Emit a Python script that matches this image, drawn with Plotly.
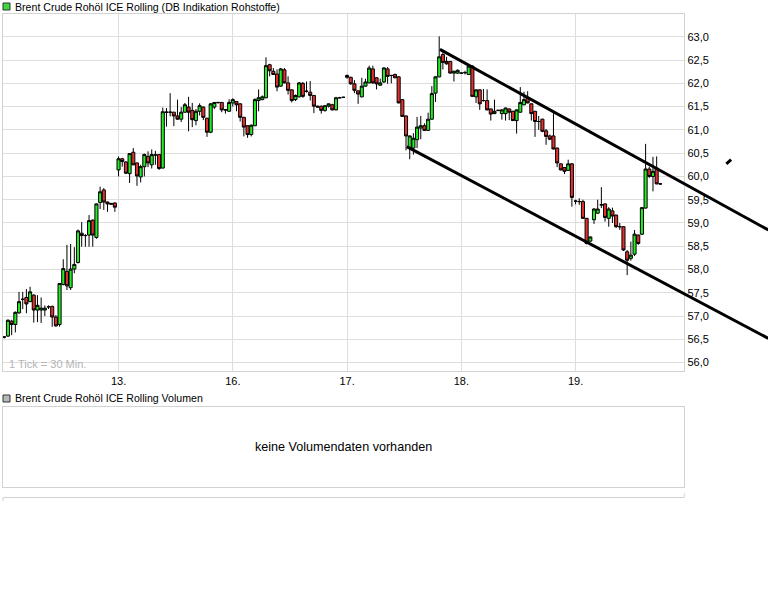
import plotly.graph_objects as go

W, H = 768, 614

# 30-min candles, one slot per candle, 31 slots per trading day (12., 13., 16., 17., 18., 19.)
day_labels = ["13.", "16.", "17.", "18.", "19."]
slots_per_day = 31

opens = [
    56.55, 56.57, 56.89, 56.82, 57.07, 57.36, 57.40, 57.31, 57.45, 57.13, 57.13, 57.13, 57.20, 57.21, 56.98, 56.82,
    57.68, 57.96, 57.61, 58.01, 58.15, 58.78, 58.73, 58.74, 59.06, 58.69, 59.44, 59.71, 59.45, 59.40, 59.43,
    60.14, 60.38, 60.31, 60.06, 60.52, 60.29, 59.99, 60.21, 60.43, 60.25, 60.46, 60.47, 60.18, 61.38, 61.38, 61.38,
    61.30, 61.23, 61.38, 61.49, 61.42, 61.20, 61.40, 61.49, 61.25, 60.95, 61.49, 61.59, 61.59, 61.43, 61.40,
    61.58, 61.61, 61.56, 61.27, 61.09, 60.90, 61.09, 61.63, 61.65, 61.69, 62.40, 62.26, 62.20, 61.94, 62.29, 62.01,
    61.86, 61.65, 61.71, 62.00, 61.83, 61.81, 61.74, 61.51, 61.51, 61.42, 61.51, 61.54, 61.43, 61.69, 61.70,
    62.17, 62.13, 61.99, 61.84, 61.71, 61.94, 62.01, 62.31, 62.12, 61.96, 62.03, 62.31, 62.17, 62.19, 62.14, 61.65,
    61.30, 60.61, 60.61, 60.79, 61.04, 61.09, 60.99, 61.23, 61.79, 62.14, 62.62, 62.47, 62.47, 62.22, 62.22,
    62.22, 62.23, 62.19, 62.37, 61.71, 61.86, 61.63, 61.63, 61.45, 61.35, 61.42, 61.35, 61.35, 61.45, 61.40, 61.20,
    61.38, 61.54, 61.69, 61.56, 61.40, 61.18, 61.23, 60.98, 60.87, 60.87, 60.61, 60.27, 60.19, 60.13, 60.27,
    59.47, 59.46, 59.46, 59.10, 58.61, 59.07, 59.21, 59.39, 59.41, 59.10, 59.26, 59.17, 58.92, 58.92, 58.38, 58.24,
    58.33, 58.74, 58.76, 59.32, 60.16, 60.00, 60.18, 59.84,
]
highs = [
    56.57, 56.93, 56.92, 57.10, 57.52, 57.52, 57.58, 57.63, 57.47, 57.45, 57.40, 57.23, 57.23, 57.22, 57.02, 57.71,
    58.22, 58.53, 58.55, 58.48, 58.86, 59.02, 58.76, 59.17, 59.08, 59.42, 59.78, 59.75, 59.46, 59.43, 59.44,
    60.43, 60.40, 60.33, 60.50, 60.61, 60.30, 60.25, 60.49, 60.54, 60.58, 60.55, 60.48, 61.48, 61.47, 61.79, 61.39,
    61.65, 61.49, 61.58, 61.71, 61.58, 61.45, 61.57, 61.50, 61.26, 61.58, 61.60, 61.60, 61.60, 61.45, 61.66,
    61.68, 61.62, 61.57, 61.28, 61.10, 61.12, 61.68, 61.87, 61.74, 62.56, 62.42, 62.33, 62.30, 62.33, 62.33, 62.15,
    61.87, 61.76, 62.03, 62.03, 62.04, 62.05, 61.75, 61.52, 61.52, 61.53, 61.57, 61.56, 61.71, 61.71, 61.71,
    62.19, 62.14, 62.07, 61.85, 62.12, 62.10, 62.38, 62.38, 62.13, 62.10, 62.35, 62.35, 62.18, 62.21, 62.15, 61.66,
    61.31, 60.88, 60.93, 61.28, 61.30, 61.14, 61.37, 61.94, 62.15, 63.01, 62.67, 62.57, 62.48, 62.27, 62.30,
    62.23, 62.27, 62.39, 62.39, 61.87, 61.87, 61.88, 61.87, 61.46, 61.65, 61.43, 61.45, 61.48, 61.46, 61.41, 61.44,
    61.92, 61.82, 61.83, 61.57, 61.41, 61.30, 61.24, 61.02, 60.90, 61.36, 60.62, 60.28, 60.20, 60.36, 60.29,
    59.50, 59.53, 59.50, 59.11, 58.71, 59.32, 59.50, 59.77, 59.42, 59.34, 59.33, 59.18, 59.00, 58.93, 58.42, 58.60,
    58.85, 58.75, 59.34, 60.70, 60.21, 60.42, 60.43, 59.86,
]
lows = [
    56.52, 56.55, 56.59, 56.65, 57.05, 57.15, 57.06, 57.30, 56.86, 56.87, 56.85, 57.00, 57.15, 56.77, 56.77, 56.77,
    57.66, 57.56, 57.56, 57.92, 58.13, 58.49, 58.49, 58.49, 58.49, 58.66, 59.30, 59.28, 59.24, 59.39, 59.24,
    60.00, 60.21, 60.05, 59.86, 60.24, 59.80, 59.87, 60.00, 60.20, 60.17, 60.25, 60.14, 60.17, 61.07, 61.29, 61.08,
    61.22, 61.17, 61.37, 60.97, 61.06, 61.10, 61.31, 61.21, 60.85, 60.93, 61.45, 61.56, 61.38, 61.35, 61.39,
    61.50, 61.40, 61.18, 60.86, 60.83, 60.86, 61.08, 61.40, 61.64, 61.68, 62.15, 62.18, 61.83, 61.93, 62.00, 61.76,
    61.59, 61.62, 61.70, 61.69, 61.80, 61.63, 61.36, 61.48, 61.35, 61.39, 61.48, 61.42, 61.42, 61.68, 61.69,
    62.10, 61.97, 61.79, 61.56, 61.70, 61.93, 62.00, 61.99, 61.87, 61.95, 62.01, 61.99, 62.00, 62.11, 61.57, 61.28,
    60.56, 60.37, 60.47, 60.61, 60.80, 60.98, 60.98, 61.22, 61.60, 62.13, 62.30, 62.40, 62.21, 62.04, 62.20,
    62.20, 62.19, 62.18, 61.71, 61.58, 61.43, 61.61, 61.42, 61.20, 61.34, 61.40, 61.22, 61.20, 61.21, 61.19, 60.92,
    61.37, 61.53, 61.57, 61.20, 60.85, 61.00, 60.95, 60.68, 60.78, 60.58, 60.20, 60.13, 60.05, 60.12, 59.35,
    59.40, 59.39, 59.09, 58.54, 58.60, 58.98, 59.20, 59.32, 59.03, 58.92, 59.00, 58.89, 58.85, 58.40, 57.88, 58.19,
    58.29, 58.53, 58.74, 59.31, 59.97, 59.68, 59.83, 59.82,
]
closes = [
    56.55, 56.91, 56.82, 57.08, 57.31, 57.36, 57.26, 57.52, 57.13, 57.23, 57.17, 57.17, 57.20, 56.98, 56.79, 57.70,
    58.02, 57.65, 58.01, 58.11, 58.83, 58.73, 58.73, 59.05, 58.74, 59.41, 59.67, 59.45, 59.41, 59.42, 59.34,
    60.38, 60.32, 60.07, 60.49, 60.25, 60.01, 60.21, 60.47, 60.29, 60.47, 60.46, 60.17, 61.39, 61.38, 61.38, 61.30,
    61.23, 61.38, 61.54, 61.38, 61.22, 61.40, 61.52, 61.27, 60.95, 61.56, 61.59, 61.59, 61.43, 61.43, 61.59,
    61.65, 61.54, 61.27, 61.06, 60.90, 61.10, 61.65, 61.69, 61.71, 62.38, 62.27, 62.19, 61.92, 62.31, 62.01, 61.85,
    61.63, 61.74, 62.01, 61.72, 61.83, 61.74, 61.51, 61.49, 61.42, 61.52, 61.56, 61.43, 61.69, 61.69, 61.70,
    62.13, 61.99, 61.85, 61.77, 61.94, 62.03, 62.33, 62.01, 61.99, 62.01, 62.33, 62.15, 62.17, 62.12, 61.58, 61.29,
    60.87, 60.87, 60.82, 61.06, 61.09, 60.99, 61.23, 61.78, 62.14, 62.57, 62.45, 62.42, 62.22, 62.26, 62.28,
    62.22, 62.23, 62.37, 61.72, 61.86, 61.56, 61.63, 61.43, 61.34, 61.40, 61.42, 61.43, 61.47, 61.38, 61.20, 61.43,
    61.59, 61.65, 61.58, 61.35, 61.18, 61.18, 60.97, 60.86, 60.80, 60.59, 60.29, 60.14, 60.11, 60.27, 59.55,
    59.47, 59.46, 59.10, 58.56, 58.70, 59.30, 59.30, 59.39, 59.12, 59.30, 59.15, 58.92, 58.92, 58.42, 58.20, 58.31,
    58.76, 58.56, 59.33, 60.16, 60.00, 60.11, 59.84, 59.84,
]

# hand-drawn trend channel (slot, price), drawn past the right edge of the chart
upper_slots = [118.2, 207.3]
upper_prices = [62.73, 58.85]
lower_slots = [109.2, 207.3]
lower_prices = [60.64, 56.52]
stray_slots = [195.9, 197.2]
stray_prices = [60.27, 60.36]

GREEN = "#22ec22"
RED = "#e23030"
GRID = "#dedede"
FRAME = "#d2d2d2"
FONT = "Liberation Sans, Arial, sans-serif"

# plot frame in pixels
left, right, top, bottom = 3, 684.3, 14, 371
vol_top, vol_bottom = 407, 487
x_range = [-0.35, 184.5]
y_range = [55.82, 63.49]
# overlay axis spans to the window edge with the same slot scale
x3_range = [x_range[0], x_range[0] + (x_range[1] - x_range[0]) * (W - left) / (right - left)]

fig = go.Figure()

fig.add_trace(go.Candlestick(
    x=list(range(len(opens))),
    open=opens, high=highs, low=lows, close=closes,
    increasing=dict(fillcolor=GREEN, line=dict(color="black", width=1)),
    decreasing=dict(fillcolor=RED, line=dict(color="black", width=1)),
    whiskerwidth=0,
    hoverinfo="skip",
))

for xs, ys in [(upper_slots, upper_prices), (lower_slots, lower_prices), (stray_slots, stray_prices)]:
    fig.add_trace(go.Scatter(
        x=xs, y=ys, mode="lines",
        line=dict(color="black", width=3),
        xaxis="x3", yaxis="y3", hoverinfo="skip",
    ))

tickvals = [(i + 1) * slots_per_day for i in range(len(day_labels))]

fig.update_layout(
    width=W, height=H,
    margin=dict(l=0, r=0, t=0, b=0),
    paper_bgcolor="white",
    plot_bgcolor="rgba(0,0,0,0)",
    showlegend=False,
    separators=",.",
    boxgap=0.12, boxgroupgap=0.05,
    font=dict(family=FONT, size=11, color="black"),
    xaxis=dict(
        domain=[left / W, right / W], range=x_range, anchor="y",
        tickvals=tickvals, ticktext=day_labels, ticks="",
        showgrid=True, gridcolor=GRID, gridwidth=1, zeroline=False,
        showline=True, mirror=True, linecolor=FRAME, linewidth=1,
        rangeslider=dict(visible=False), fixedrange=True,
    ),
    yaxis=dict(
        domain=[1 - bottom / H, 1 - top / H], range=y_range, anchor="x",
        side="right", tick0=56, dtick=0.5, tickformat=".1f", ticks="",
        showgrid=True, gridcolor=GRID, gridwidth=1, zeroline=False,
        showline=True, mirror=True, linecolor=FRAME, linewidth=1,
        fixedrange=True,
    ),
    xaxis2=dict(
        domain=[left / W, right / W], range=[0, 1], anchor="y2",
        showticklabels=False, ticks="", showgrid=False, zeroline=False,
        showline=True, mirror=True, linecolor=FRAME, fixedrange=True,
    ),
    yaxis2=dict(
        domain=[1 - vol_bottom / H, 1 - vol_top / H], range=[0, 1], anchor="x2",
        showticklabels=False, ticks="", showgrid=False, zeroline=False,
        showline=True, mirror=True, linecolor=FRAME, fixedrange=True,
    ),
    xaxis3=dict(domain=[left / W, 1], range=x3_range, anchor="y3", visible=False, fixedrange=True),
    yaxis3=dict(domain=[1 - bottom / H, 1 - top / H], range=y_range, anchor="x3", visible=False, fixedrange=True),
)

# empty volume panel needs a trace so its axes are drawn
fig.add_trace(go.Scatter(x=[], y=[], xaxis="x2", yaxis="y2"))

fig.add_annotation(
    text="Brent Crude Rohöl ICE Rolling (DB Indikation Rohstoffe)",
    xref="paper", yref="paper", x=13 / W, y=1 - 6.5 / H,
    xanchor="left", yanchor="middle", showarrow=False,
    font=dict(family=FONT, size=10.6, color="black"),
)
fig.add_annotation(
    text="Brent Crude Rohöl ICE Rolling Volumen",
    xref="paper", yref="paper", x=13 / W, y=1 - 398 / H,
    xanchor="left", yanchor="middle", showarrow=False,
    font=dict(family=FONT, size=10.6, color="black"),
)
fig.add_annotation(
    text="1 Tick = 30 Min.",
    xref="paper", yref="paper", x=7 / W, y=1 - 364 / H,
    xanchor="left", yanchor="middle", showarrow=False,
    font=dict(family=FONT, size=11, color="#b4b4b4"),
)
fig.add_annotation(
    text="keine Volumendaten vorhanden",
    xref="paper", yref="paper", x=343 / W, y=1 - 447 / H,
    xanchor="center", yanchor="middle", showarrow=False,
    font=dict(family=FONT, size=12.6, color="black"),
)

# legend squares and the axis strip under the volume panel
fig.add_shape(type="rect", xref="paper", yref="paper",
              x0=3 / W, x1=10 / W, y0=1 - 10 / H, y1=1 - 3 / H,
              fillcolor="#3ad83a", line=dict(color="#333333", width=1))
fig.add_shape(type="rect", xref="paper", yref="paper",
              x0=3 / W, x1=10 / W, y0=1 - 402 / H, y1=1 - 395 / H,
              fillcolor="#b8b8b8", line=dict(color="#333333", width=1))
fig.add_shape(type="line", xref="paper", yref="paper",
              x0=left / W, x1=right / W, y0=1 - 497.5 / H, y1=1 - 497.5 / H,
              line=dict(color=FRAME, width=1))
fig.add_shape(type="line", xref="paper", yref="paper",
              x0=left / W, x1=left / W, y0=1 - 497.5 / H, y1=1 - 501 / H,
              line=dict(color=FRAME, width=1))
fig.add_shape(type="line", xref="paper", yref="paper",
              x0=right / W, x1=right / W, y0=1 - 493.5 / H, y1=1 - 497.5 / H,
              line=dict(color=FRAME, width=1))

# page body margin would push the fixed-size figure off by 8 px
fig.write_html(
    "out.html",
    config={"displayModeBar": False},
    post_script="document.body.style.margin='0';document.body.style.overflow='hidden';",
)
